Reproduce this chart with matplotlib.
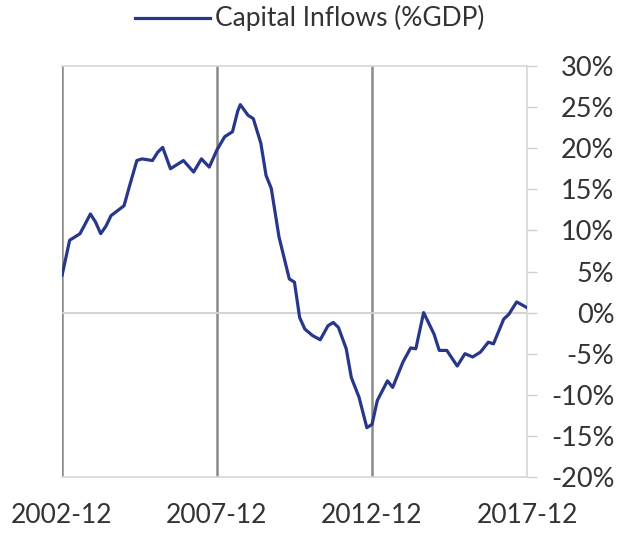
import matplotlib
matplotlib.use("Agg")
import matplotlib.pyplot as plt
import pandas as pd

# values (capital inflows, % of GDP)
dates = ["2002-12", "2003-03", "2003-05", "2003-07", "2003-09", "2003-11", "2004-01",
         "2004-03", "2004-05", "2004-07", "2004-12", "2005-02", "2005-05", "2005-07",
         "2005-11", "2006-01", "2006-03", "2006-06", "2006-11", "2007-03", "2007-06",
         "2007-09", "2007-12", "2008-03", "2008-06", "2008-08", "2008-09", "2008-12",
         "2009-02", "2009-05", "2009-07", "2009-09", "2009-12", "2010-04", "2010-06",
         "2010-08", "2010-10", "2011-01", "2011-04", "2011-07", "2011-09", "2011-11",
         "2012-02", "2012-04", "2012-07", "2012-10", "2012-12", "2013-02", "2013-06",
         "2013-08", "2013-12", "2014-03", "2014-05", "2014-08", "2014-12", "2015-02",
         "2015-05", "2015-09", "2015-12", "2016-03", "2016-06", "2016-09", "2016-11",
         "2017-03", "2017-05", "2017-08", "2017-12"]
inflows = [4.5, 8.8, 9.2, 9.6, 10.8, 12.0, 11.0,
           9.6, 10.5, 11.8, 13.0, 15.3, 18.5, 18.7,
           18.5, 19.5, 20.1, 17.5, 18.5, 17.1, 18.7,
           17.7, 19.8, 21.4, 22.0, 24.5, 25.3, 24.0,
           23.6, 20.6, 16.7, 15.1, 9.2, 4.1, 3.7,
           -0.6, -2.0, -2.8, -3.3, -1.6, -1.2, -1.8,
           -4.4, -7.9, -10.3, -14.0, -13.6, -10.7, -8.3,
           -9.1, -6.0, -4.3, -4.4, 0.0, -2.6, -4.6,
           -4.6, -6.5, -5.0, -5.4, -4.8, -3.6, -3.8,
           -0.8, -0.2, 1.3, 0.6]
xtick_labels = ["2002-12", "2007-12", "2012-12", "2017-12"]
yticks = [-20, -15, -10, -5, 0, 5, 10, 15, 20, 25, 30]

plt.rcParams['font.family'] = ['Lato', 'DejaVu Sans']

x = pd.to_datetime(dates)
xt = pd.to_datetime(xtick_labels)

fig = plt.figure(figsize=(6.34, 5.34), dpi=100)
ax = fig.add_axes([62 / 634, 57 / 534, 465 / 634, 411 / 534])

# gridlines
for d in xt[:-1]:
    ax.axvline(d, color='#8a8a8a', lw=1.8, zorder=1)
ax.axhline(0, color='#cfcfcf', lw=1.3, zorder=1)

ax.plot(x, inflows, color='#27378a', lw=2.3, solid_joinstyle='round',
        solid_capstyle='round', zorder=3)

ax.set_xlim(xt[0], xt[-1])
ax.set_ylim(-20, 30)
ax.set_xticks(xt)
ax.set_xticklabels(xtick_labels)
ax.set_yticks(yticks)
ax.set_yticklabels([f"{v}%" for v in yticks])

ax.yaxis.tick_right()
ax.tick_params(axis='y', length=7, color='#d0d0d0', width=1.0, pad=56,
               labelsize=19.5, labelcolor='#333333')
for lab in ax.get_yticklabels():
    lab.set_ha('right')
ax.tick_params(axis='x', length=0, pad=19, labelsize=19, labelcolor='#333333')

for side in ['top', 'right', 'bottom']:
    ax.spines[side].set_color('#d6d6d6')
    ax.spines[side].set_linewidth(1.2)
ax.spines['left'].set_visible(False)

# legend at top
fig.add_artist(plt.Line2D([135 / 634, 210 / 634], [1 - 18 / 534, 1 - 18 / 534],
                          color='#27378a', lw=2.3, transform=fig.transFigure))
fig.text(215 / 634, 1 - 18 / 534, "Capital Inflows (%GDP)", ha='left', va='center',
         fontsize=19, color='#333333')

fig.savefig("out.png", dpi=100)
